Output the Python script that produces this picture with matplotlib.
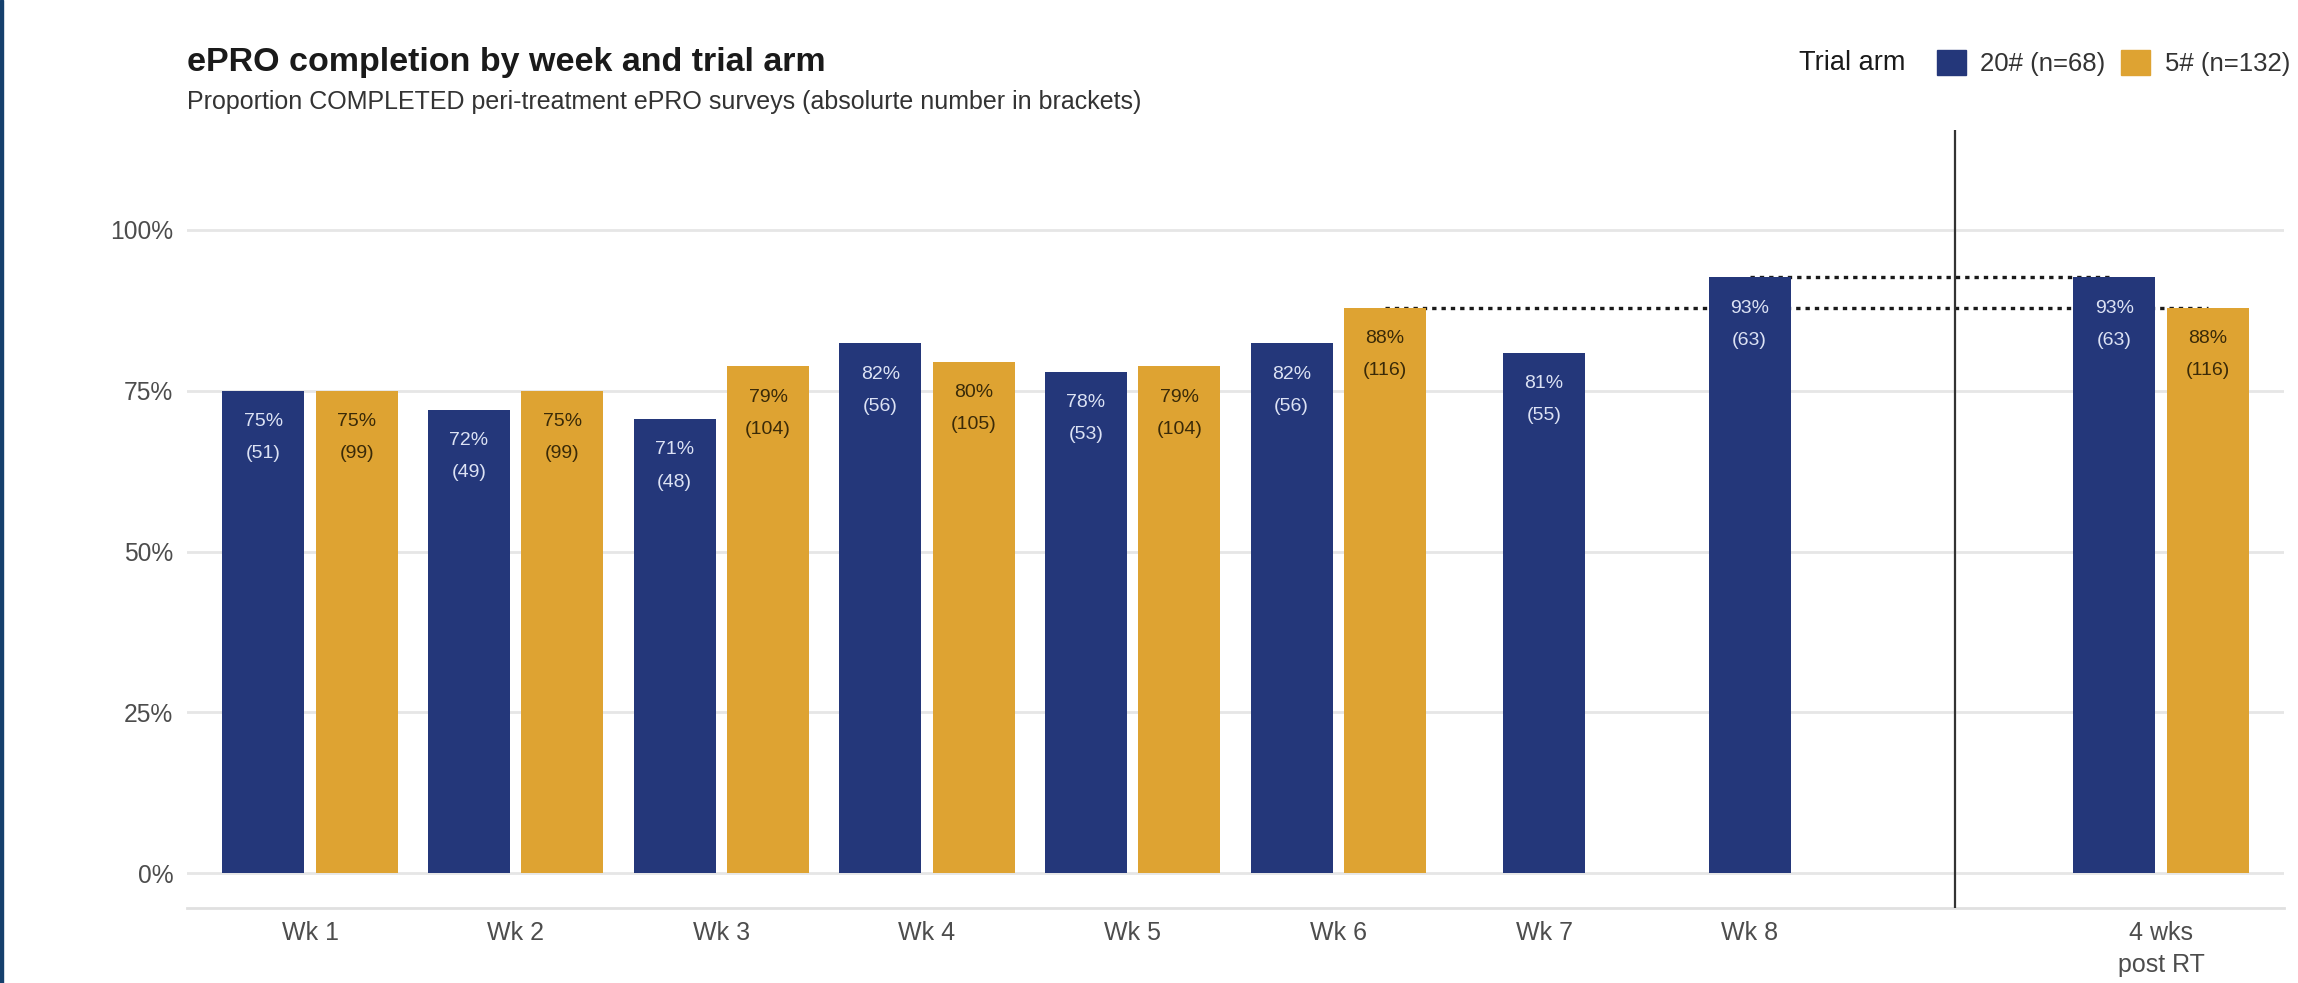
import matplotlib
matplotlib.use("Agg")
import matplotlib.pyplot as plt
import matplotlib.patches as patches
import numpy as np

plt.rcParams['font.family'] = ['Liberation Sans', 'DejaVu Sans']

# data
weeks = ["Wk 1", "Wk 2", "Wk 3", "Wk 4", "Wk 5", "Wk 6", "Wk 7", "Wk 8", "", "4 wks\npost RT"]
completed_20 = [51, 49, 48, 56, 53, 56, 55, 63, None, 63]
completed_5 = [99, 99, 104, 105, 104, 116, None, None, None, 116]
n_20 = 68
n_5 = 132
arm_labels = ["20# (n=68)", "5# (n=132)"]

navy = "#24377a"
gold = "#dea332"

W, H = 2298, 983
fig = plt.figure(figsize=(W / 100, H / 100), dpi=100)
ax = fig.add_axes([186.6 / W, 1 - 908.4 / H, (2284.4 - 186.6) / W, (908.4 - 130.3) / H])

x = np.arange(1, len(weeks) + 1)
bw = 0.40
off = 0.227


def pct(c, n):
    return None if c is None else c / n * 100


def bar_label(xc, val, count, color):
    ax.text(xc, val - 4.8, f"{round(val)}%", ha='center', va='center',
            fontsize=14, color=color, zorder=5)
    ax.text(xc, val - 9.8, f"({count})", ha='center', va='center',
            fontsize=14, color=color, zorder=5)


for i, xi in enumerate(x):
    a = completed_20[i]
    b = completed_5[i]
    if a is not None and b is not None:
        xa, xb = xi - off, xi + off
    else:
        xa = xb = xi
    if a is not None:
        v = pct(a, n_20)
        ax.bar(xa, v, width=bw, color=navy, zorder=3)
        bar_label(xa, v, a, "#dce2f4")
    if b is not None:
        v = pct(b, n_5)
        ax.bar(xb, v, width=bw, color=gold, zorder=3)
        bar_label(xb, v, b, "#3a2a08")

# dotted reference lines (last on-treatment value carried to follow-up)
ax.plot([8, 10 - off], [pct(completed_20[7], n_20)] * 2, color="#1a1a1a",
        lw=2.4, linestyle=(0, (1.3, 1.5)), zorder=2)
ax.plot([6 + off, 10 + off], [pct(completed_5[5], n_5)] * 2, color="#1a1a1a",
        lw=2.4, linestyle=(0, (1.3, 1.5)), zorder=2)

# separator between treatment weeks and follow-up
ax.axvline(9, color="#333333", lw=1.6, zorder=4)

ax.set_xlim(0.4, 10.6)
ax.set_ylim(-5.5, 115.5)
ax.set_yticks([0, 25, 50, 75, 100])
ax.set_yticklabels(["0%", "25%", "50%", "75%", "100%"])
ax.set_xticks(x)
ax.set_xticklabels(weeks)
for lab in ax.get_xticklabels():
    lab.set_linespacing(1.45)
ax.tick_params(axis='y', length=0, pad=9.5, labelsize=17.7, labelcolor="#4d4d4d")
ax.tick_params(axis='x', length=0, pad=9, labelsize=18, labelcolor="#4d4d4d")
ax.grid(axis='y', color="#e6e6e6", lw=2, zorder=0)
ax.set_axisbelow(True)
for s in ['top', 'right', 'left']:
    ax.spines[s].set_visible(False)
ax.spines['bottom'].set_color("#e0e0e0")
ax.spines['bottom'].set_linewidth(2)

# titles
fig.text(187 / W, 1 - 62 / H, "ePRO completion by week and trial arm",
         fontsize=24.5, fontweight='bold', color="#1a1a1a", va='center', ha='left')
fig.text(187 / W, 1 - 102 / H,
         "Proportion COMPLETED peri-treatment ePRO surveys (absolurte number in brackets)",
         fontsize=18, color="#333333", va='center', ha='left')

# legend
fig.text(1799 / W, 1 - 63 / H, "Trial arm", fontsize=19.5, color="#1a1a1a",
         va='center', ha='left')
handles = [patches.Patch(color=navy), patches.Patch(color=gold)]
fig.legend(handles, arm_labels, loc='center right', bbox_to_anchor=(2290 / W, 1 - 63 / H),
           ncol=2, frameon=False, fontsize=18.5, handlelength=1.15, handleheight=1.15,
           handletextpad=0.55, columnspacing=0.6, borderpad=0, borderaxespad=0,
           labelcolor="#333333")

# navy strip on the left edge
fig.patches.append(patches.Rectangle((0, 0), 3 / W, 1, transform=fig.transFigure,
                                     color="#15406d", zorder=10))

fig.savefig("out.png", dpi=100)
